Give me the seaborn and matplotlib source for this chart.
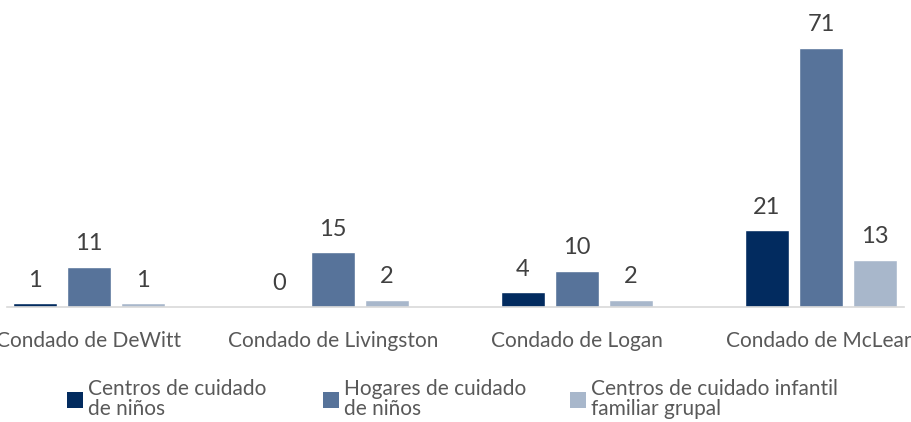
import matplotlib
matplotlib.use("Agg")
import matplotlib.pyplot as plt
import seaborn as sns
import pandas as pd
from matplotlib.patches import Patch

counties = ["Condado de DeWitt", "Condado de Livingston", "Condado de Logan", "Condado de McLean"]
series = ["Centros de cuidado\nde niños", "Hogares de cuidado\nde niños", "Centros de cuidado infantil\nfamiliar grupal"]
centros = [1, 0, 4, 21]
hogares = [11, 15, 10, 71]
grupal = [1, 2, 2, 13]
colors = ["#022B5F", "#57739A", "#A8B7CB"]

rows = []
for s, vals in zip(series, [centros, hogares, grupal]):
    for c, v in zip(counties, vals):
        rows.append({"county": c, "series": s, "value": v})
df = pd.DataFrame(rows)

sns.set_theme(style="white")
plt.rcParams["font.family"] = ["Lato", "DejaVu Sans"]

W, H = 911, 422
fig = plt.figure(figsize=(W / 100, H / 100), dpi=100)
ax_l, ax_r = 7, 904
ax = fig.add_axes([ax_l / W, (H - 307) / H, (ax_r - ax_l) / W, 307 / H])
sns.barplot(data=df, x="county", y="value", hue="series", palette=colors,
            width=0.664, gap=0.2, ax=ax, legend=False, saturation=1)

ax.set_xlim(-(89 - ax_l) / 244, (ax_r - 89) / 244)
ax.set_ylim(0, 307 / 3.648)
for cont in ax.containers:
    ax.bar_label(cont, fmt="%d", padding=9, fontsize=17, color="#404040")

for sp in ["left", "right", "top"]:
    ax.spines[sp].set_visible(False)
ax.spines["bottom"].set_color("#D9D9D9")
ax.spines["bottom"].set_linewidth(1.2)
ax.set_yticks([])
ax.set_xlabel("")
ax.set_ylabel("")
ax.tick_params(axis="x", length=0, pad=17, labelsize=15, labelcolor="#595959")

marker_x = [67, 323, 570]
for c, lab, mx in zip(colors, series, marker_x):
    leg = fig.legend([Patch(facecolor=c, edgecolor="none")], [lab],
                     loc="center left", bbox_to_anchor=(mx / W, (H - 399) / H),
                     frameon=False, fontsize=15, labelcolor="#595959",
                     borderpad=0, borderaxespad=0,
                     handlelength=0.77, handleheight=0.77, handletextpad=0.25)
    for t in leg.get_texts():
        t.set_linespacing(0.95)

fig.savefig("out.png", dpi=100)
